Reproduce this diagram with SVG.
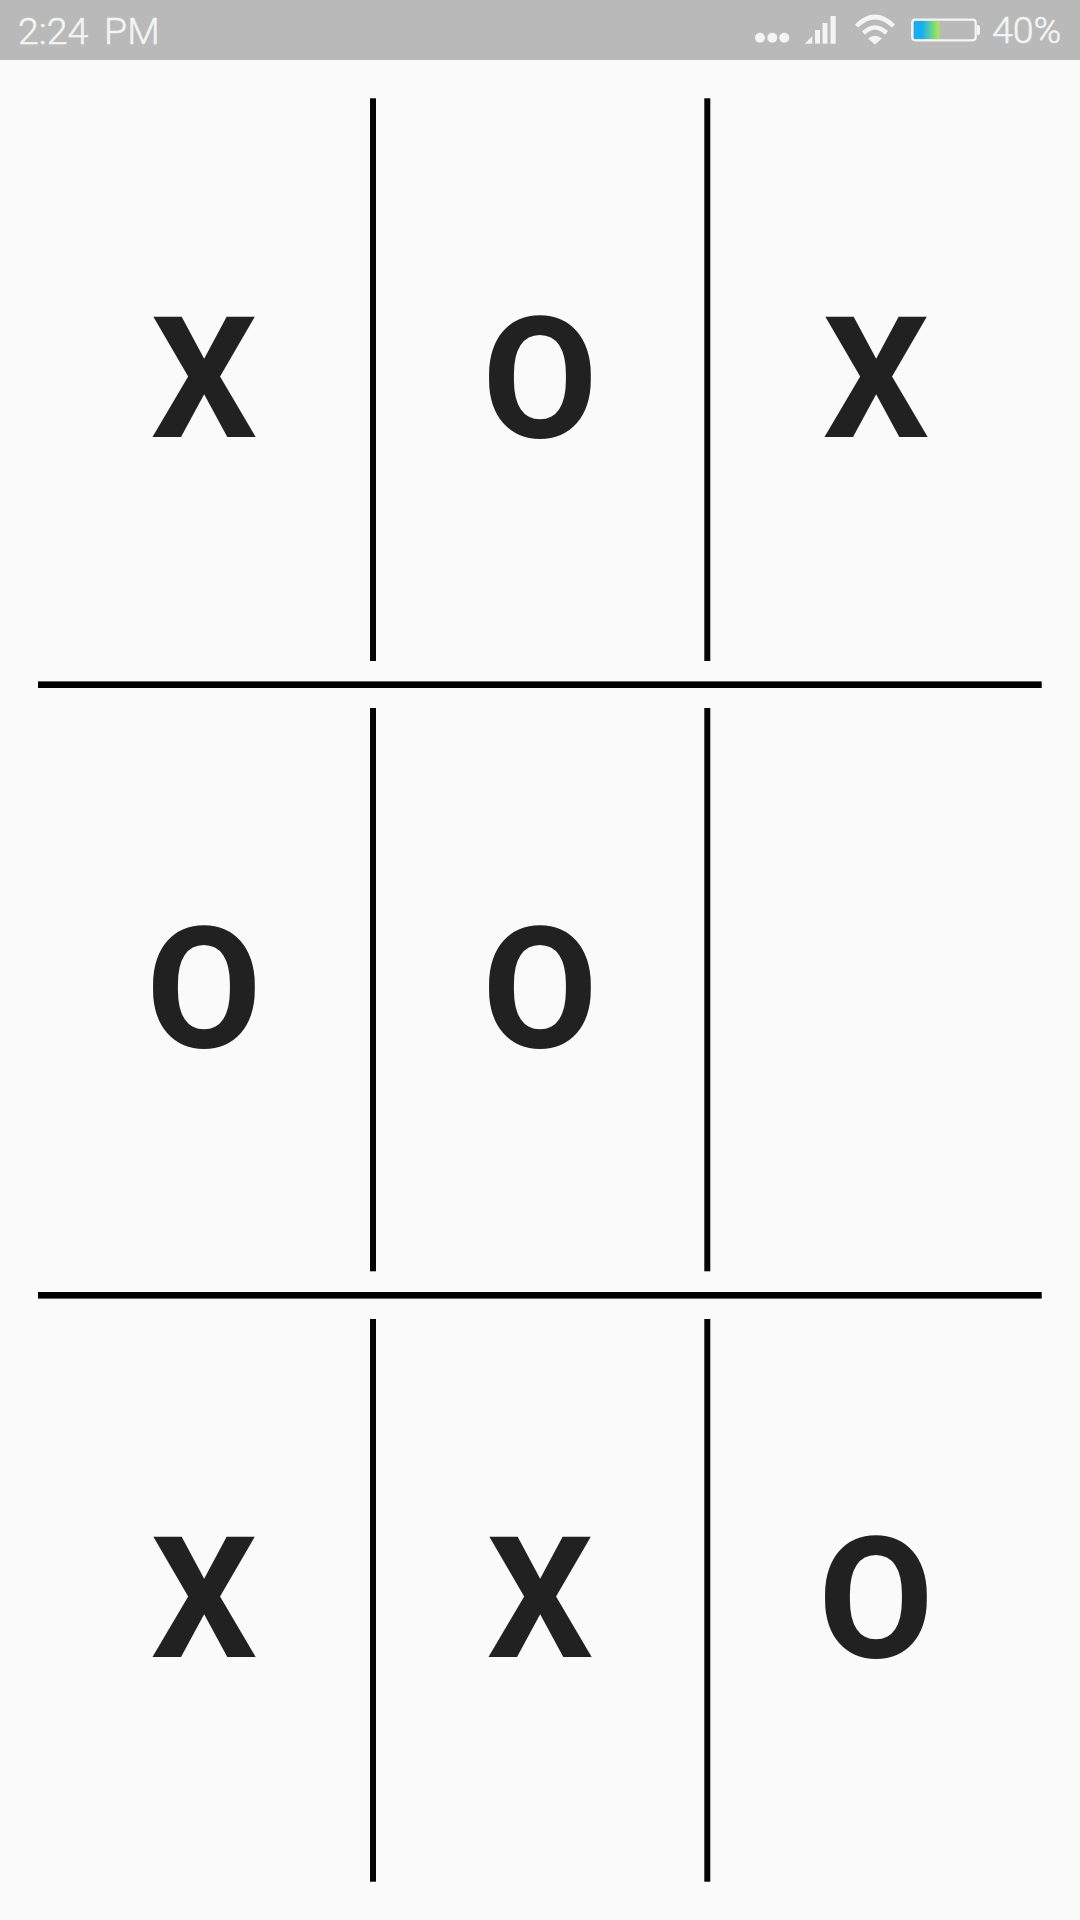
<svg xmlns="http://www.w3.org/2000/svg" width="1080" height="1920" viewBox="0 0 1080 1920">
<style>
.m{font-family:Roboto,"Liberation Sans",sans-serif;font-weight:700;font-size:168px;fill:#212121;text-anchor:middle}
.s{font-family:Roboto,"Liberation Sans",sans-serif;font-weight:300;font-size:37.5px;fill:#f4f4f4;stroke:#f4f4f4;stroke-width:.5}
.l{fill:#050505}
</style>
<defs><linearGradient id="b" x1="0" x2="1" y1="0" y2="0"><stop offset="0" stop-color="#13aef5"/><stop offset=".3" stop-color="#13aef5"/><stop offset="1" stop-color="#a6ee45"/></linearGradient></defs>
<rect width="1080" height="1920" fill="#fafafa"/>
<g id="status-bar">
<rect width="1080" height="60" fill="#b9b9b9"/>
<text class="s" x="18" y="44" xml:space="preserve">2:24  <tspan dx="-2.500">PM</tspan></text>
<g fill="#f4f4f4"><circle cx="760" cy="37.700" r="5"/><circle cx="772.300" cy="37.700" r="5"/><circle cx="784.300" cy="37.700" r="5"/>
<path d="M805 43.700 L812.300 36V43.700Z"/><rect x="815" y="30" width="5" height="13.700"/><rect x="822.500" y="23" width="5" height="20.700"/><rect x="830.500" y="16" width="5.200" height="27.700"/></g>
<g fill="none" stroke="#f4f4f4" stroke-width="4.500"><path d="M856.500 26Q875 8 893.500 26"/><path d="M863.500 33Q875 22 886.500 33"/></g>
<path d="M868 38.500Q875 33 882 38.500L875 44.500Z" fill="#f4f4f4"/>
<rect x="912.200" y="19.700" width="63.500" height="20.600" rx="3" fill="none" stroke="#f4f4f4" stroke-width="2.200"/>
<rect x="914" y="21" width="25.300" height="18" fill="url(#b)"/>
<path d="M977 25h1q2 0 2 2v6q0 2-2 2h-1z" fill="#f4f4f4"/>
<text class="s" x="992" y="43">40%</text>
</g>
<g id="grid">
<rect class="l" x="370" y="98.300" width="6" height="562.700"/><rect class="l" x="704.300" y="98.300" width="6" height="562.700"/>
<rect class="l" x="370" y="708" width="6" height="563.300"/><rect class="l" x="704.300" y="708" width="6" height="563.300"/>
<rect class="l" x="370" y="1319" width="6" height="562.700"/><rect class="l" x="704.300" y="1319" width="6" height="562.700"/>
<rect x="38" y="681.400" width="1003.700" height="6.600"/><rect x="38" y="1292" width="1003.700" height="6.600"/>
</g>
<g id="c00"><text class="m" x="204" y="437">X</text></g>
<g id="c01"><text class="m" x="540" y="437">O</text></g>
<g id="c02"><text class="m" x="876" y="437">X</text></g>
<g id="c10"><text class="m" x="204" y="1047">O</text></g>
<g id="c11"><text class="m" x="540" y="1047">O</text></g>
<g id="c20"><text class="m" x="204" y="1657">X</text></g>
<g id="c21"><text class="m" x="540" y="1657">X</text></g>
<g id="c22"><text class="m" x="876" y="1657">O</text></g>
</svg>
